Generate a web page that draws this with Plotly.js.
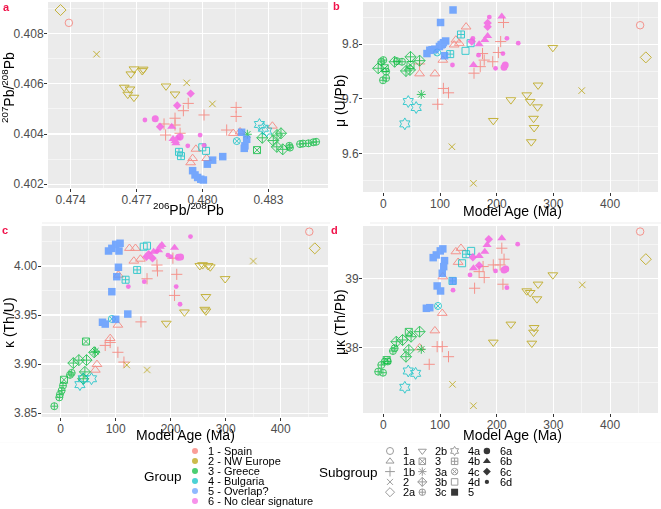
<!DOCTYPE html>
<html><head><meta charset="utf-8">
<script src="https://cdn.plot.ly/plotly-3.0.1.min.js"></script>
<style>html,body{margin:0;padding:0;background:#fff}#chart{width:661px;height:509px}</style>
</head><body><div id="chart"></div>
<script>
// ---------- categories ----------
const groupNames = ["1 - Spain","2 - NW Europe","3 - Greece","4 - Bulgaria","5 - Overlap?","6 - No clear signature"];
const subgroupNames = ["1","1a","1b","2","2a","2b","3","3a","3b","3c","4a","4b","4c","4d","5","6a","6b","6c","6d"];

// ---------- tick values ----------
const pb206Ticks = [0.474, 0.477, 0.480, 0.483];
const pb207Ticks = [0.402, 0.404, 0.406, 0.408];
const ageTicks = [0, 100, 200, 300, 400];
const muTicks = [9.6, 9.7, 9.8];
const kappaTicks = [3.85, 3.90, 3.95, 4.00];
const mukTicks = [38, 39];

// ---------- panel a: [subgroup, 206Pb/208Pb, 207Pb/208Pb] ----------
const panelA = [
 ["1",0.47392,0.40843],
 ["1a",0.48140,0.40403],["1a",0.48171,0.40409],["1a",0.48318,0.40432],["1a",0.47970,0.40340],["1a",0.47955,0.40303],["1a",0.47946,0.40286],["1a",0.48019,0.40303],
 ["1b",0.47913,0.40493],["1b",0.47935,0.40522],["1b",0.48007,0.40476],["1b",0.47875,0.40463],["1b",0.47875,0.40436],["1b",0.47825,0.40440],["1b",0.47832,0.40396],["1b",0.47898,0.40403],["1b",0.48153,0.40506],["1b",0.48153,0.40470],["1b",0.48110,0.40416],
 ["2",0.47518,0.40718],["2",0.47928,0.40604],["2",0.48045,0.40520],
 ["2a",0.47354,0.40894],
 ["2b",0.47688,0.40659],["2b",0.47674,0.40639],["2b",0.47730,0.40658],["2b",0.47726,0.40652],["2b",0.47644,0.40586],["2b",0.47670,0.40579],["2b",0.47660,0.40558],["2b",0.47688,0.40546],["2b",0.47834,0.40591],["2b",0.47875,0.40559],
 ["3",0.48248,0.40336],
 ["3a",0.48204,0.40399],
 ["3b",0.48272,0.40385],["3b",0.48322,0.40374],["3b",0.48339,0.40396],["3b",0.48357,0.40403],["3b",0.48338,0.40349],["3b",0.48365,0.40339],
 ["3c",0.48395,0.40353],["3c",0.48398,0.40346],["3c",0.48444,0.40360],["3c",0.48457,0.40362],["3c",0.48482,0.40363],["3c",0.48504,0.40367],["3c",0.48517,0.40369],
 ["4a",0.48259,0.40438],["4a",0.48277,0.40423],["4a",0.48292,0.40412],
 ["4b",0.47893,0.40329],["4b",0.47902,0.40312],
 ["4c",0.48156,0.40372],
 ["4d",0.47999,0.40347],["4d",0.48016,0.40333],
 ["5",0.48178,0.40407],["5",0.48201,0.40379],["5",0.48193,0.40353],["5",0.48190,0.40343],["5",0.48092,0.40310],["5",0.48046,0.40296],["5",0.48022,0.40280],["5",0.47955,0.40254],["5",0.47966,0.40237],["5",0.47978,0.40227],["5",0.47992,0.40220],["5",0.48004,0.40217],
 ["6a",0.47785,0.40461],["6a",0.47898,0.40389],
 ["6b",0.47860,0.40429],["6b",0.47866,0.40380],["6b",0.47876,0.40372],["6b",0.47884,0.40382],["6b",0.47879,0.40363],
 ["6c",0.47946,0.40561],["6c",0.47885,0.40514],["6c",0.47807,0.40429],
 ["6d",0.47738,0.40456],["6d",0.47933,0.40353],["6d",0.47989,0.40396],["6d",0.48007,0.40355]
];

// ---------- panel b: [subgroup, model age (Ma), mu] ----------
const panelB = [
 ["1",453,9.835],
 ["1a",146,9.832],["1a",128,9.808],["1a",125,9.799],["1a",134,9.802],["1a",105,9.771],["1a",91,9.746],["1a",64,9.746],
 ["1b",212,9.840],["1b",207,9.805],["1b",203,9.785],["1b",193,9.768],["1b",178,9.771],["1b",175,9.783],["1b",171,9.759],["1b",160,9.747],["1b",115,9.711],["1b",106,9.719],["1b",96,9.690],["1b",64,9.764],
 ["2",350,9.715],["2",121,9.612],["2",159,9.545],
 ["2a",463,9.776],
 ["2b",299,9.794],["2b",273,9.725],["2b",272,9.685],["2b",253,9.707],["2b",259,9.695],["2b",225,9.698],["2b",265,9.664],["2b",266,9.647],["2b",261,9.621],["2b",194,9.660],
 ["3",2.5,9.756],["3",48,9.762],
 ["3a",67,9.708],
 ["3b",48,9.777],["3b",40,9.751],["3b",47,9.753],["3b",64,9.770],["3b",20,9.768],["3b",-9,9.756],
 ["3c",-3.5,9.768],["3c",5,9.750],["3c",-0.5,9.734],["3c",5,9.738],["3c",24,9.769],["3c",33,9.768],["3c",0,9.771],
 ["4a",44,9.695],["4a",58,9.684],["4a",38,9.654],
 ["4b",137,9.818],["4b",118,9.782],
 ["4c",95,9.785],
 ["4d",154,9.802],["4d",145,9.788],
 ["5",123,9.863],["5",101,9.840],["5",110,9.806],["5",106,9.803],["5",102,9.799],["5",99,9.796],["5",91,9.791],["5",86,9.790],["5",82,9.789],["5",77,9.783],["5",108,9.779],["5",104,9.800],
 ["6a",215,9.762],["6a",213,9.758],
 ["6b",209,9.851],["6b",184,9.815],["6b",179,9.808],["6b",169,9.800],["6b",159,9.762],
 ["6c",184,9.839],["6c",184,9.832],["6c",156,9.805],
 ["6d",187,9.850],["6d",158,9.811],["6d",218,9.811],["6d",238,9.802],["6d",211,9.783],["6d",168,9.780],["6d",122,9.762],["6d",198,9.756]
];

// ---------- panel c: [subgroup, model age (Ma), kappa] ----------
const panelC = [
 ["1",452,4.035],
 ["1a",125,4.0181],["1a",136,4.0181],["1a",133,4.0051],["1a",145,4.0071],["1a",105,3.9908],["1a",104,3.9398],["1a",90,3.9262],["1a",66,3.8997],["1a",63,3.8939],
 ["1b",175,4.001],["1b",176,3.995],["1b",204,4.008],["1b",211,3.9915],["1b",207,3.970],["1b",157,3.987],["1b",146,3.943],["1b",90,3.922],["1b",81,3.919],["1b",104,3.912],["1b",115,3.902],
 ["2",350,4.005],["2",120,3.899],["2",157,3.894],
 ["2a",462,4.018],
 ["2b",253,4.0003],["2b",258,4.0012],["2b",268,4.0003],["2b",272,3.999],["2b",299,3.987],["2b",264,3.9687],["2b",262,3.9557],["2b",264,3.954],["2b",225,3.953],["2b",192,3.9415],
 ["3",46,3.923],["3",6,3.884],
 ["3a",63,3.913],
 ["3b",47,3.904],["3b",33,3.904],["3b",23,3.901],["3b",44,3.892],["3b",41,3.885],["3b",61,3.912],
 ["3c",-11.6,3.857],["3c",-2.5,3.866],["3c",-1.3,3.869],["3c",1.8,3.873],["3c",4.2,3.878],["3c",17,3.889],["3c",20,3.891],
 ["4a",35,3.879],["4a",41,3.885],["4a",56,3.885],
 ["4b",139,3.996],["4b",118,3.986],
 ["4c",93,3.946],
 ["4d",151,4.0197],["4d",157,4.0207],
 ["5",87,4.0153],["5",93,4.018],["5",100,4.0221],["5",108,4.0232],["5",106,4.0153],["5",105,3.9987],["5",102,3.9891],["5",93,3.9738],["5",122,3.951],["5",100,3.9456],["5",76,3.9426],["5",81,3.9408],
 ["6a",214,4.0089],["6a",218,4.0092],
 ["6b",207,4.0187],["6b",184,4.0214],["6b",181,4.0197],["6b",178,4.016],["6b",169,4.0146],
 ["6c",156,4.0095],["6c",167,4.0079],["6c",160,4.012],
 ["6d",236,4.030],["6d",200,4.0095],["6d",123,3.979],["6d",152,3.984],["6d",210,3.979],["6d",217,3.961],["6d",195,4.011],["6d",175,4.015]
];

// ---------- panel d: [subgroup, model age (Ma), mu*kappa] ----------
const panelD = [
 ["1",453,39.689],
 ["1a",137,39.447],["1a",128,39.397],["1a",132,39.243],["1a",105,39.033],["1a",104,38.501],["1a",91,38.247],["1a",64,38.0],
 ["1b",209,39.447],["1b",213,39.287],["1b",206,39.204],["1b",194,39.204],["1b",176,39.18],["1b",169,39.106],["1b",178,39.019],["1b",161,38.865],["1b",211,38.923],["1b",115,37.869],["1b",104,38.015],["1b",95,38.015],["1b",81,37.758],
 ["2",351,38.913],["2",122,37.467],["2",159,37.156],
 ["2a",463,39.287],
 ["2b",299,39.058],["2b",273,38.923],["2b",253,38.825],["2b",259,38.801],["2b",271,38.709],["2b",225,38.341],["2b",266,38.291],["2b",265,38.224],["2b",262,38.064],["2b",194,38.079],
 ["3",45,38.23],["3",6,37.82],
 ["3a",67,37.977],
 ["3b",49,38.160],["3b",64,38.233],["3b",45,37.967],["3b",40,37.869],["3b",23,38.087],["3b",34,38.112],
 ["3c",-9,37.651],["3c",-0.5,37.636],["3c",-3.5,37.748],["3c",2.5,37.796],["3c",17,37.952],["3c",20,37.991],["3c",8,37.80],
 ["4a",44,37.661],["4a",57,37.627],["4a",38,37.424],
 ["4b",146,39.36],["4b",122,38.971],
 ["4c",96.5,38.607],
 ["4d",155,39.408],["4d",139,39.228],
 ["5",105,39.437],["5",100.5,39.408],["5",93.5,39.349],["5",88,39.31],["5",108,39.266],["5",106.5,39.179],["5",104,39.083],["5",123,38.971],["5",95,38.898],["5",101,38.825],["5",82,38.582],["5",76,38.573],
 ["6a",216,39.146],["6a",213,39.13],
 ["6b",209,39.592],["6b",183,39.495],["6b",179,39.397],["6b",169,39.335],["6b",159,39.156],
 ["6c",186,39.578],["6c",158,39.316],["6c",169,39.194],
 ["6d",237,39.505],["6d",153,39.058],["6d",123,38.836],["6d",198,39.116],["6d",218,38.873]
];

// ---------- styles ----------
const groupColors = ["#F8766D","#B79F00","#00BA38","#00BFC4","#619CFF","#F564E3"];
const subgroupSymbols = ["circle-open","triangle-up-open","cross-thin-open","x-thin-open","diamond-open","triangle-down-open","square-x-open","asterisk-open","diamond-cross-open","circle-cross-open","hexagram-open","square-cross-open","circle-x-open","square-open","square","circle","triangle-up","diamond","circle"];
const subgroupSizes = [7.5,8.5,8,6.5,8.5,8.5,7,7.5,8.5,7,9,7,7,7,7.5,7,8,6.5,4.8];

const W = 661, H = 509;
const FONT = "Liberation Sans, Arial, sans-serif";
const fx = p => p / W;
const fy = p => 1 - p / H;

const panels = [
  {rows: panelA, xa: "x", ya: "y"},
  {rows: panelB, xa: "x2", ya: "y2"},
  {rows: panelC, xa: "x3", ya: "y3"},
  {rows: panelD, xa: "x4", ya: "y4"}
];

const traces = [];
panels.forEach(p => {
  subgroupNames.forEach((sg, si) => {
    const rows = p.rows.filter(r => r[0] === sg);
    if (!rows.length) return;
    const col = groupColors[parseInt(sg[0], 10) - 1];
    const open = subgroupSymbols[si].endsWith("-open");
    traces.push({
      type: "scatter", mode: "markers",
      x: rows.map(r => r[1]), y: rows.map(r => r[2]),
      xaxis: p.xa, yaxis: p.ya, showlegend: false, hoverinfo: "skip",
      opacity: open ? 0.75 : 0.85,
      marker: {symbol: subgroupSymbols[si], size: subgroupSizes[si], color: col,
               line: {color: col, width: open ? 1 : 0}}
    });
  });
});

// ---------- legend drawn on a pixel-scaled helper axis ----------
const LEG_TOP = 442.8;
const grpKeyX = 195, grpTextX = 206, grpY0 = 451, grpDy = 10;
traces.push({
  type: "scatter", mode: "markers", xaxis: "x5", yaxis: "y5", showlegend: false, hoverinfo: "skip",
  x: groupNames.map(() => grpKeyX), y: groupNames.map((_, i) => grpY0 + i * grpDy),
  opacity: 0.7, marker: {symbol: "circle", size: 6, color: groupColors}
});
const subKeyX0 = 390, subTextX0 = 401, subDx = 32.3, subY0 = 451, subDy = 10.3;
subgroupNames.forEach((sg, si) => {
  const c = Math.floor(si / 5), r = si % 5;
  const open = subgroupSymbols[si].endsWith("-open");
  traces.push({
    type: "scatter", mode: "markers", xaxis: "x5", yaxis: "y5", showlegend: false, hoverinfo: "skip",
    x: [subKeyX0 + c * subDx], y: [subY0 + r * subDy], opacity: open ? 0.45 : 0.9,
    marker: {symbol: subgroupSymbols[si], size: Math.min(subgroupSizes[si], 7.5) - 0.5, color: "#222",
             line: {color: "#222", width: open ? 1 : 0}}
  });
});

const annotations = [];
groupNames.forEach((g, i) => annotations.push({
  xref: "x5", yref: "y5", x: grpTextX, y: grpY0 + i * grpDy, text: g, showarrow: false,
  xanchor: "left", yanchor: "middle", font: {family: FONT, size: 11, color: "#000"}
}));
subgroupNames.forEach((sg, si) => {
  const c = Math.floor(si / 5), r = si % 5;
  annotations.push({xref: "x5", yref: "y5", x: subTextX0 + c * subDx, y: subY0 + r * subDy, text: sg,
    showarrow: false, xanchor: "left", yanchor: "middle", font: {family: FONT, size: 11, color: "#000"}});
});
annotations.push({xref: "x5", yref: "y5", x: 184, y: 476, text: "Group", showarrow: false,
  xanchor: "right", yanchor: "middle", font: {family: FONT, size: 13.5, color: "#000"}});
annotations.push({xref: "x5", yref: "y5", x: 380, y: 472, text: "Subgroup", showarrow: false,
  xanchor: "right", yanchor: "middle", font: {family: FONT, size: 13.5, color: "#000"}});

// panel letters
[["a",6,7],["b",336,6],["c",5,230],["d",335,230]].forEach(l => annotations.push({
  xref: "paper", yref: "paper", x: fx(l[1]), y: fy(l[2]), text: "<b>" + l[0] + "</b>", showarrow: false,
  xanchor: "center", yanchor: "middle", font: {family: FONT, size: 11, color: "#F0124A"}
}));

// axis titles (placed to match the reference layout)
const axisTitles = [
  ["<sup>206</sup>Pb/<sup>208</sup>Pb", 188, 209, 0],
  ["<sup>207</sup>Pb/<sup>208</sup>Pb", 8, 88, -90],
  ["Model Age (Ma)", 512, 211, 0],
  ["μ (U/Pb)", 340, 101, -90],
  ["Model Age (Ma)", 185, 434.5, 0],
  ["κ (Th/U)", 9, 323, -90],
  ["Model Age (Ma)", 512, 435, 0],
  ["μκ (Th/Pb)", 340, 322, -90]
];
axisTitles.forEach(t => annotations.push({
  xref: "paper", yref: "paper", x: fx(t[1]), y: fy(t[2]), text: t[0], textangle: t[3], showarrow: false,
  xanchor: "center", yanchor: "middle", font: {family: FONT, size: 14, color: "#000"}
}));

function axis(domain, range, ticks, fmt, minorStep) {
  return {
    domain: domain, range: range, autorange: false, fixedrange: true,
    tickmode: "array", tickvals: ticks, ticktext: ticks.map(v => fmt ? v.toFixed(fmt) : String(v)),
    showgrid: true, gridcolor: "#FFFFFF", gridwidth: 1.1, zeroline: false, showline: false,
    ticks: "outside", ticklen: 3, tickwidth: 1, tickcolor: "#333333", ticklabelstandoff: -2,
    tickfont: {family: FONT, size: 12, color: "#4D4D4D"},
    minor: {showgrid: true, gridcolor: "#FFFFFF", gridwidth: 0.5, ticks: "", dtick: minorStep, tick0: ticks[0]}
  };
}

const layout = {
  width: W, height: H, margin: {l: 0, r: 0, t: 0, b: 0},
  paper_bgcolor: "#FFFFFF", plot_bgcolor: "#EBEBEB", showlegend: false,
  xaxis:  axis([fx(48), fx(328)], [0.47297, 0.48571], pb206Ticks, 3, 0.0015),
  yaxis:  axis([fy(188), fy(2)], [0.40185, 0.40926], pb207Ticks, 3, 0.001),
  xaxis2: axis([fx(363), fx(658)], [-35.8, 484.5], ageTicks, 0, 50),
  yaxis2: axis([fy(192), fy(2)], [9.529, 9.8776], muTicks, 1, 0.05),
  xaxis3: axis([fx(41.7), fx(328)], [-34.5, 486], ageTicks, 0, 50),
  yaxis3: axis([fy(417), fy(226)], [3.846, 4.0408], kappaTicks, 2, 0.025),
  xaxis4: axis([fx(363), fx(658)], [-35.8, 484.5], ageTicks, 0, 50),
  yaxis4: axis([fy(413), fy(226)], [37.05, 39.77], mukTicks, 0, 0.5),
  xaxis5: {domain: [0, 1], range: [0, W], visible: false, fixedrange: true},
  yaxis5: {domain: [0, 1 - LEG_TOP / H], range: [H, LEG_TOP], visible: false, fixedrange: true},
  annotations: annotations,
  shapes: [
    {type: "rect", xref: "paper", yref: "paper", x0: 0, x1: 1, y0: 0, y1: 1 - LEG_TOP / H, layer: "below",
     fillcolor: "#FFFFFF", line: {width: 0}},
    {type: "line", xref: "paper", yref: "paper", x0: fx(42), x1: fx(330), y0: fy(223), y1: fy(223), line: {color: "#EDEDED", width: 1}},
    {type: "line", xref: "paper", yref: "paper", x0: fx(370), x1: fx(661), y0: fy(223), y1: fy(223), line: {color: "#EDEDED", width: 1}}
  ]
};
layout.xaxis2.anchor = "y2"; layout.yaxis2.anchor = "x2";
layout.xaxis3.anchor = "y3"; layout.yaxis3.anchor = "x3";
layout.xaxis4.anchor = "y4"; layout.yaxis4.anchor = "x4";
layout.xaxis5.anchor = "y5"; layout.yaxis5.anchor = "x5";

Plotly.newPlot("chart", traces, layout, {staticPlot: true, displayModeBar: false});
</script>
</body></html>
